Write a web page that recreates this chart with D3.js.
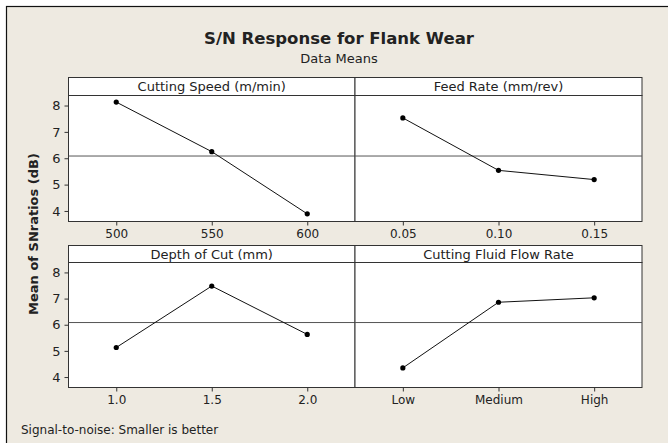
<!DOCTYPE html>
<html>
<head>
<meta charset="utf-8">
<script src="https://cdn.jsdelivr.net/npm/d3@7"></script>
<style>
  body { margin: 0; background: #fff; }
  text { font-family: "DejaVu Sans", sans-serif; fill: #222; }
</style>
</head>
<body>
<div id="chart"></div>
<script>
// factor titles and levels
const factors = ['Cutting Speed (m/min)', 'Feed Rate (mm/rev)', 'Depth of Cut (mm)', 'Cutting Fluid Flow Rate'];
const speedLevels = ['500', '550', '600'];
const feedLevels = ['0.05', '0.10', '0.15'];
const depthLevels = ['1.0', '1.5', '2.0'];
const fluidLevels = ['Low', 'Medium', 'High'];

// mean S/N ratios (dB) per level
const speedSN = [8.13, 6.25, 3.89];
const feedSN = [7.53, 5.54, 5.19];
const depthSN = [5.13, 7.48, 5.63];
const fluidSN = [4.35, 6.86, 7.03];

const yTicks = [4, 5, 6, 7, 8];

const width = 668;
const height = 443;

const panels = [
  { title: factors[0], levels: speedLevels, values: speedSN, col: 0, row: 0 },
  { title: factors[1], levels: feedLevels, values: feedSN, col: 1, row: 0 },
  { title: factors[2], levels: depthLevels, values: depthSN, col: 0, row: 1 },
  { title: factors[3], levels: fluidLevels, values: fluidSN, col: 1, row: 1 }
];

const cols = [68.5, 355, 642];
const rows = [
  { head: 77.5, top: 95.5, bottom: 221.5 },
  { head: 245.5, top: 262.5, bottom: 387.5 }
];

function dessine() {
  const svg = d3.select('#chart')
    .append('svg')
    .attr('width', width)
    .attr('height', height);

  // beige background with frame on top/left
  svg.append('rect')
    .attr('x', 6.5).attr('y', 6.5)
    .attr('width', width + 10).attr('height', height + 10)
    .attr('fill', '#eeeae1')
    .attr('stroke', '#111')
    .attr('stroke-width', 1.2);

  svg.append('text')
    .attr('x', 339).attr('y', 44)
    .attr('text-anchor', 'middle')
    .attr('font-size', '16.5px')
    .attr('font-weight', 'bold')
    .text('S/N Response for Flank Wear');

  svg.append('text')
    .attr('x', 339).attr('y', 63)
    .attr('text-anchor', 'middle')
    .attr('font-size', '13px')
    .text('Data Means');

  const grandMean = d3.mean([].concat(speedSN, feedSN, depthSN, fluidSN));

  panels.forEach(p => {
    const x0 = cols[p.col], x1 = cols[p.col + 1];
    const r = rows[p.row];

    const x = d3.scalePoint()
      .domain(p.levels)
      .range([x0, x1])
      .padding(0.5);

    const y = d3.scaleLinear()
      .domain([3.6, 8.38])
      .range([r.bottom, r.top]);

    const g = svg.append('g');

    // header strip
    g.append('rect')
      .attr('x', x0).attr('y', r.head)
      .attr('width', x1 - x0).attr('height', r.top - r.head)
      .attr('fill', '#fff')
      .attr('stroke', '#333');

    g.append('text')
      .attr('x', (x0 + x1) / 2).attr('y', r.head + 13.5)
      .attr('text-anchor', 'middle')
      .attr('font-size', '13px')
      .text(p.title);

    // plot area
    g.append('rect')
      .attr('x', x0).attr('y', r.top)
      .attr('width', x1 - x0).attr('height', r.bottom - r.top)
      .attr('fill', '#fff')
      .attr('stroke', '#333');

    // reference line at grand mean
    g.append('line')
      .attr('x1', x0).attr('x2', x1)
      .attr('y1', y(grandMean)).attr('y2', y(grandMean))
      .attr('stroke', '#555')
      .attr('stroke-width', 1);

    // x axis
    const xa = g.append('g')
      .attr('transform', `translate(0,${r.bottom})`)
      .call(d3.axisBottom(x).tickSize(4).tickSizeOuter(0).tickPadding(4));
    xa.select('.domain').remove();
    xa.selectAll('line').attr('stroke', '#333');
    xa.selectAll('text').attr('font-size', '12px').attr('font-family', '"DejaVu Sans", sans-serif').attr('fill', '#222');

    // y axis only on left column
    if (p.col === 0) {
      const ya = g.append('g')
        .attr('transform', `translate(${x0},0)`)
        .call(d3.axisLeft(y).tickValues(yTicks).tickFormat(d3.format('d')).tickSize(4).tickPadding(4));
      ya.select('.domain').remove();
      ya.selectAll('line').attr('stroke', '#333');
      ya.selectAll('text').attr('font-size', '13px').attr('font-family', '"DejaVu Sans", sans-serif').attr('fill', '#222');
    }

    const line = d3.line()
      .x((d, i) => x(p.levels[i]))
      .y(d => y(d));

    g.append('path')
      .datum(p.values)
      .attr('d', line)
      .attr('fill', 'none')
      .attr('stroke', '#111')
      .attr('stroke-width', 1);

    g.selectAll('circle')
      .data(p.values)
      .join('circle')
      .attr('cx', (d, i) => x(p.levels[i]))
      .attr('cy', d => y(d))
      .attr('r', 2.6)
      .attr('fill', '#000');
  });

  svg.append('text')
    .attr('transform', 'translate(38,234) rotate(-90)')
    .attr('text-anchor', 'middle')
    .attr('font-size', '13px')
    .attr('font-weight', 'bold')
    .text('Mean of SNratios (dB)');

  svg.append('text')
    .attr('x', 21).attr('y', 434)
    .attr('font-size', '12px')
    .text('Signal-to-noise: Smaller is better');
}

dessine();
</script>
</body>
</html>
